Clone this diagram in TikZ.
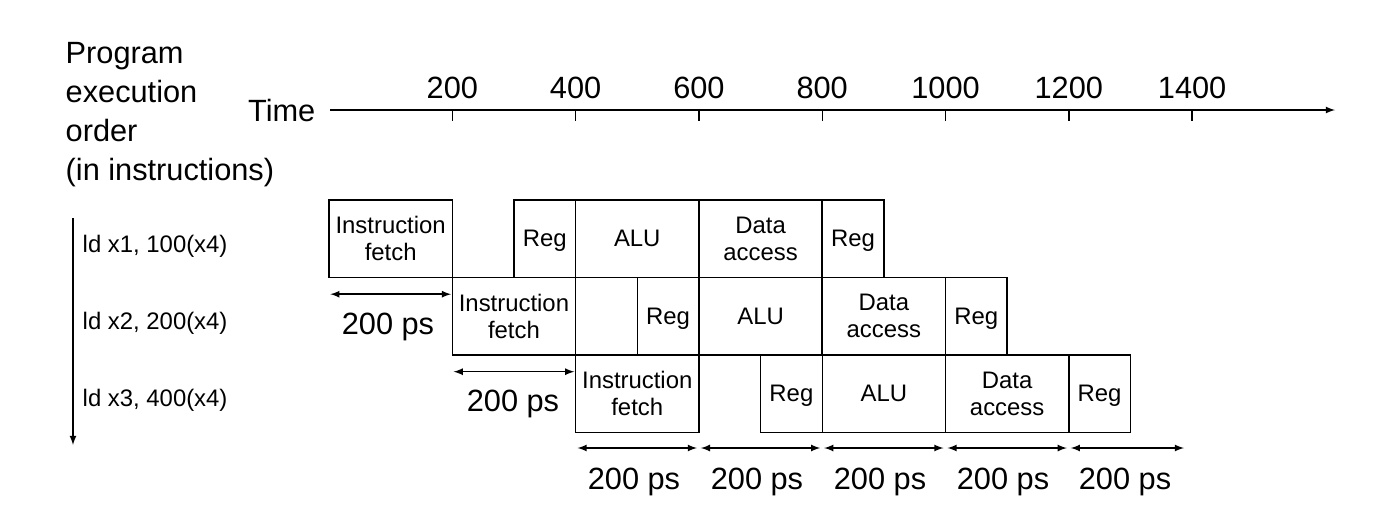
\documentclass[tikz,border=0pt]{standalone}
\usepackage{fontspec}
\setmainfont{Liberation Sans}
\begin{document}
\begin{tikzpicture}[x=0.02cm, y=-0.02cm, >=latex, line width=0.8pt,
    stage/.style={draw, inner sep=0pt, minimum height=1.55cm, align=center,
      font=\fontsize{13.6}{15.4}\selectfont},
    full/.style={stage, minimum width=2.466cm},
    half/.style={stage, minimum width=1.233cm, text depth=0pt},
    big/.style={inner sep=0pt, font=\fontsize{17.5}{22.2}\selectfont},
    instr/.style={inner sep=0pt, anchor=base west, font=\fontsize{13.6}{15.4}\selectfont}]
  \useasboundingbox (0,0) rectangle (1393,518);
  \node[big, align=left, anchor=north west] (order) at (65,42) {Program\\execution\\order\\(in instructions)};
  \node[big, anchor=east] (time) at (316,111) {Time};
  \coordinate (t_start) at (330,110);
  \coordinate (t_end) at (1335,110);
  \draw[->] (t_start) -- (t_end);
  \foreach \t/\x in {200/452.3, 400/575.6, 600/698.9, 800/822.2, 1000/945.5, 1200/1068.8, 1400/1192.1} {
    \node[big] (tick_\t) at (\x,88) {\t};
    \draw (\x,110) -- (\x,121);
  }
  \coordinate (o_top) at (73,218);
  \coordinate (o_bot) at (73,445);
  \draw[->] (o_top) -- (o_bot);
  \node[instr] (ld_1) at (82,252) {ld x1, 100(x4)};
  \node[instr] (ld_2) at (82,329) {ld x2, 200(x4)};
  \node[instr] (ld_3) at (82,406) {ld x3, 400(x4)};
  \node[full] (if_1) at (390.65,238.75) {Instruction\\fetch};
  \node[half] (rr_1) at (544.8,238.75) {Reg};
  \node[full] (alu_1) at (637.25,238.75) {ALU};
  \node[full] (da_1) at (760.55,238.75) {Data\\access};
  \node[half] (wb_1) at (853,238.75) {Reg};
  \node[full] (if_2) at (513.95,316.25) {Instruction\\fetch};
  \node[half] (rr_2) at (668.1,316.25) {Reg};
  \node[full] (alu_2) at (760.55,316.25) {ALU};
  \node[full] (da_2) at (883.85,316.25) {Data\\access};
  \node[half] (wb_2) at (976.3,316.25) {Reg};
  \node[full] (if_3) at (637.25,393.75) {Instruction\\fetch};
  \node[half] (rr_3) at (791.4,393.75) {Reg};
  \node[full] (alu_3) at (883.85,393.75) {ALU};
  \node[full] (da_3) at (1007.15,393.75) {Data\\access};
  \node[half] (wb_3) at (1099.6,393.75) {Reg};
  \draw[<->] ([shift={(2,16)}]if_1.south west) -- ([shift={(-2,16)}]if_1.south east);
  \node[big, anchor=base] (ps_1) at (388,334) {200 ps};
  \draw[<->] ([shift={(2,16)}]if_2.south west) -- ([shift={(-2,16)}]if_2.south east);
  \node[big, anchor=base] (ps_2) at (513,411) {200 ps};
  \foreach \i/\x in {0/575.6, 1/698.9, 2/822.2, 3/945.5, 4/1068.8, 5/1186}
    \coordinate (b_\i) at (\x,448);
  \foreach \i/\j/\x in {0/1/634, 1/2/757, 2/3/880, 3/4/1003, 4/5/1125} {
    \draw[<->, shorten <=0.04cm, shorten >=0.04cm] (b_\i) -- (b_\j);
    \node[big, anchor=base] (ps_b\i) at (\x,489) {200 ps};
  }
\end{tikzpicture}
\end{document}
